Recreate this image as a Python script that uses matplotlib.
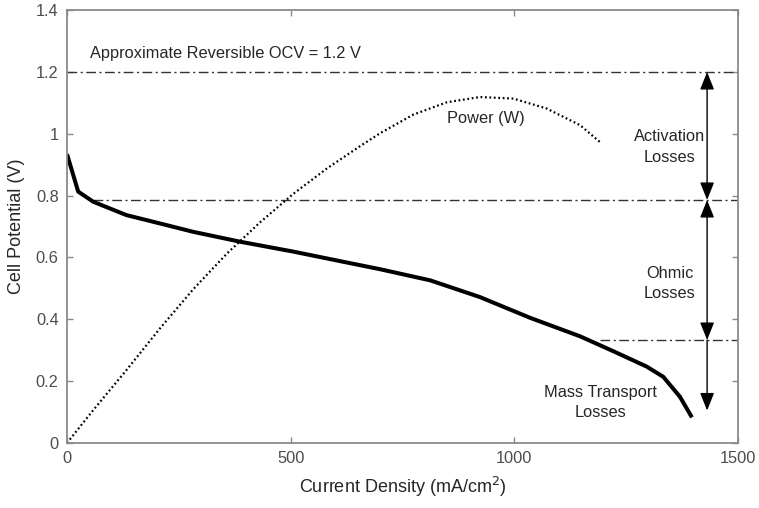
import matplotlib
matplotlib.use('Agg')
import matplotlib.pyplot as plt

plt.rcParams['font.family'] = ['Liberation Sans', 'DejaVu Sans']

# polarization curve
current = [0, 25, 59, 133, 208, 282, 387, 506, 618, 700, 812, 923, 1035, 1147, 1221, 1296,
           1333, 1370, 1397]
voltage = [0.934, 0.813, 0.780, 0.737, 0.710, 0.683, 0.651, 0.619, 0.586, 0.562, 0.526, 0.472,
           0.405, 0.345, 0.297, 0.247, 0.214, 0.150, 0.083]

# power curve (scaled on the same axis)
power_current = [0, 59, 133, 208, 282, 357, 431, 506, 581, 655, 700, 774, 849, 923, 998,
                 1072, 1147, 1195]
power = [0, 0.107, 0.236, 0.371, 0.497, 0.612, 0.713, 0.806, 0.888, 0.960, 1.002, 1.062,
         1.102, 1.119, 1.114, 1.082, 1.028, 0.969]

# loss levels
ocv = 1.2
act_level = 0.786
ohm_level = 0.333
mt_bottom = 0.105

xticks = [0, 500, 1000, 1500]
yticks = [0, 0.2, 0.4, 0.6, 0.8, 1.0, 1.2, 1.4]
ytick_labels = ['0', '0.2', '0.4', '0.6', '0.8', '1', '1.2', '1.4']

fig = plt.figure(figsize=(7.59, 5.08), dpi=100)
ax = fig.add_axes([0.0883, 0.128, 0.884, 0.852])

dashdot = (0, (7, 2.5, 1.5, 2.5))
line_col = '#333333'
ax.plot([0, 1500], [ocv, ocv], color=line_col, lw=1, linestyle=dashdot)
ax.plot([58, 1500], [act_level, act_level], color=line_col, lw=1, linestyle=dashdot)
ax.plot([1192, 1500], [ohm_level, ohm_level], color=line_col, lw=1, linestyle=dashdot)

ax.plot(current, voltage, color='black', lw=2.9, solid_capstyle='butt', solid_joinstyle='round')
ax.plot(power_current, power, color='black', lw=1.6, linestyle=(0, (0.8, 1.2)))

arrow_x = 1431
head = dict(color='black', lw=1, mutation_scale=27, shrinkA=0, shrinkB=0)
ax.annotate('', xy=(arrow_x, ocv), xytext=(arrow_x, act_level),
            arrowprops=dict(arrowstyle='<|-|>,head_length=0.4,head_width=0.16', **head))
ax.annotate('', xy=(arrow_x, act_level), xytext=(arrow_x, ohm_level),
            arrowprops=dict(arrowstyle='<|-|>,head_length=0.4,head_width=0.16', **head))
ax.annotate('', xy=(arrow_x, mt_bottom), xytext=(arrow_x, ohm_level),
            arrowprops=dict(arrowstyle='-|>,head_length=0.4,head_width=0.16', **head))

txt = '#262626'
fs = 11.8
ax.text(51, 1.26, 'Approximate Reversible OCV = 1.2 V', fontsize=fs, color=txt, va='center', ha='left')
ax.text(937, 1.051, 'Power (W)', fontsize=fs, color=txt, ha='center', va='center')
ax.text(1348, 0.957, 'Activation\nLosses', fontsize=fs, color=txt, ha='center', va='center', linespacing=1.45)
ax.text(1348, 0.516, 'Ohmic\nLosses', fontsize=fs, color=txt, ha='center', va='center', linespacing=1.45)
ax.text(1192, 0.131, 'Mass Transport\nLosses', fontsize=fs, color=txt, ha='center', va='center', linespacing=1.45)

ax.set_xlim(0, 1500)
ax.set_ylim(0, 1.4)
ax.set_xticks(xticks)
ax.set_yticks(yticks)
ax.set_yticklabels(ytick_labels)
ax.tick_params(direction='in', length=4, width=1, colors='#8a8a8a', labelcolor='#4d4d4d',
               labelsize=11.8, top=True, right=True, pad=6)
for s in ax.spines.values():
    s.set_color('#8a8a8a')
    s.set_linewidth(1.3)

ax.set_xlabel('Current Density (mA/cm$^2$)', fontsize=13, color=txt, labelpad=6)
ax.set_ylabel('Cell Potential (V)', fontsize=13, color=txt, labelpad=8)

fig.savefig('out.png', dpi=100)
